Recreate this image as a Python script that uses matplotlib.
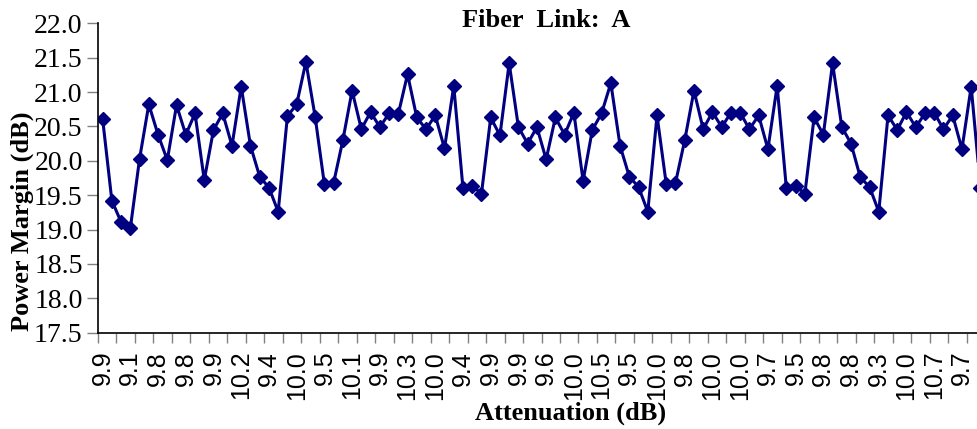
import matplotlib
matplotlib.use('Agg')
import matplotlib.pyplot as plt
from matplotlib.ticker import FixedLocator, MultipleLocator


# power margin per sample (dB)
power_margin = [
    20.61, 19.42, 19.11, 19.02, 20.03, 20.82, 20.38, 20.01, 20.81, 20.38,
    20.69, 19.72, 20.45, 20.69, 20.22, 21.08, 20.22, 19.77, 19.61, 19.26,
    20.65, 20.82, 21.44, 20.64, 19.66, 19.68, 20.30, 21.02, 20.46, 20.71,
    20.49, 20.69, 20.68, 21.26, 20.63, 20.46, 20.66, 20.18, 21.09, 19.60,
    19.64, 19.52, 20.63, 20.37, 21.42, 20.49, 20.25, 20.49, 20.02, 20.63,
    20.38, 20.70, 19.71, 20.45, 20.69, 21.13, 20.22, 19.77, 19.62, 19.26,
    20.66, 19.66, 19.68, 20.30, 21.02, 20.46, 20.71, 20.49, 20.70, 20.70,
    20.46, 20.66, 20.17, 21.09, 19.60, 19.64, 19.52, 20.63, 20.38, 21.42,
    20.49, 20.25, 19.76, 19.62, 19.26, 20.66, 20.45, 20.71, 20.49, 20.69,
    20.70, 20.46, 20.66, 20.17, 21.08, 19.61,
]

# attenuation shown under every third sample (dB)
attenuation_labels = [
    '9.9', '9.1', '9.8', '9.8', '9.9', '10.2', '9.4', '10.0', '9.5', '10.1',
    '9.9', '10.3', '10.0', '9.4', '9.9', '9.9', '9.6', '10.0', '10.5', '9.5',
    '10.0', '9.8', '10.0', '10.0', '9.7', '9.5', '9.8', '9.8', '9.3', '10.0',
    '10.7', '9.7',
]

LABEL_STEP = 3
TICK_STEP = 2
N_SLOTS = 100  # category slots on the axis, the figure only shows the first ~95

serif = 'Liberation Serif'
sans = 'Liberation Sans'

fig = plt.figure(figsize=(9.78, 4.29), dpi=100)
ax = fig.add_axes([98 / 978, 1 - 332.7 / 429, N_SLOTS * 9.24 / 978, (332.7 - 23.3) / 429])

x = list(range(len(power_margin)))
ax.plot(x, power_margin, color='#000080', linewidth=2.2, marker='D',
        markersize=7.2, markerfacecolor='#000080', markeredgecolor='#000080')

ax.set_xlim(-0.5, N_SLOTS - 0.5)
ax.set_ylim(17.5, 22.0)

ax.yaxis.set_major_locator(MultipleLocator(0.5))
ax.set_yticklabels([f'{v:.1f}' for v in ax.get_yticks()], fontfamily=serif, fontsize=20)
ax.tick_params(axis='y', which='major', direction='out', length=8, width=1,
               color='#808080', pad=3)

# labels on every third category, tick marks on every second boundary
label_pos = [i * LABEL_STEP for i in range(len(attenuation_labels))]
ax.xaxis.set_major_locator(FixedLocator(label_pos))
ax.set_xticklabels(attenuation_labels, rotation=90, fontfamily=sans, fontsize=18,
                   va='top', ha='center')
ax.xaxis.set_minor_locator(FixedLocator([b - 0.5 for b in range(0, N_SLOTS + 1, TICK_STEP)]))
ax.tick_params(axis='x', which='major', length=0, pad=13)
ax.tick_params(axis='x', which='minor', direction='out', length=7, width=1, color='#808080')

for side in ('top', 'right'):
    ax.spines[side].set_visible(False)
for side in ('left', 'bottom'):
    ax.spines[side].set_linewidth(1.2)
    ax.spines[side].set_color('black')

fig.text(546 / 978, 1 - 20.5 / 429, 'Fiber  Link:  A', ha='center', va='center',
         fontfamily=serif, fontweight='bold', fontsize=19)
fig.text(571 / 978, 1 - 413 / 429, 'Attenuation (dB)', ha='center', va='center',
         fontfamily=serif, fontweight='bold', fontsize=19)
fig.text(22 / 978, 1 - 221 / 429, 'Power Margin (dB)', ha='center', va='center',
         rotation=90, fontfamily=serif, fontweight='bold', fontsize=19)

fig.savefig('out.png', dpi=100)
